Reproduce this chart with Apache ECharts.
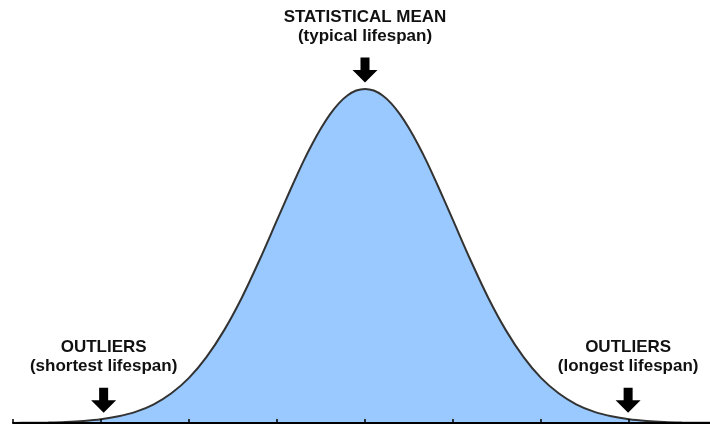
<!DOCTYPE html>
<html>
<head>
<meta charset="utf-8">
<script src="https://cdn.jsdelivr.net/npm/echarts@6/dist/echarts.min.js"></script>
<style>html,body{margin:0;padding:0;background:#fff}#c{width:710px;height:428px}</style>
</head>
<body>
<div id="c"></div>
<script>
// x in standard deviations from the mean, y as % of peak height
var xValues = [-4,-3.8,-3.6,-3.4,-3.2,-3,-2.8,-2.6,-2.4,-2.2,-2,-1.8,-1.6,-1.4,-1.2,-1,-0.9,-0.8,-0.7,-0.6,-0.5,-0.4,-0.3,-0.2,-0.1,0,
               0.1,0.2,0.3,0.4,0.5,0.6,0.7,0.8,0.9,1,1.2,1.4,1.6,1.8,2,2.2,2.4,2.6,2.8,3,3.2,3.4,3.6,3.8,4];
var yValues = [0.03,0.07,0.15,0.31,0.6,1.1,2.0,3.4,5.6,8.9,13.5,19.8,27.8,37.5,48.7,60.7,66.7,72.6,78.3,83.5,88.2,92.3,95.6,98.0,99.5,100,
               99.5,98.0,95.6,92.3,88.2,83.5,78.3,72.6,66.7,60.7,48.7,37.5,27.8,19.8,13.5,8.9,5.6,3.4,2.0,1.1,0.6,0.31,0.15,0.07,0.03];
var annotationX = [-2.97, 0, 2.99];
var annotationY = [1.1, 100, 1.1];
var annotationText = [
  'OUTLIERS\n(shortest lifespan)',
  'STATISTICAL MEAN\n(typical lifespan)',
  'OUTLIERS\n(longest lifespan)'
];

var curve = xValues.map(function (x, i) { return [x, yValues[i]]; });
var marks = annotationX.map(function (x, i) {
  return { value: [x, annotationY[i]], label: { formatter: annotationText[i] } };
});

var chart = echarts.init(document.getElementById('c'));
chart.setOption({
  animation: false,
  grid: { left: 13, width: 704, top: 0, bottom: 5, outerBoundsMode: 'none', containLabel: false },
  xAxis: {
    type: 'value', min: -4, max: 4, interval: 1, z: 10,
    axisLine: { show: true, onZero: false, lineStyle: { color: '#000', width: 2 } },
    axisTick: { show: true, inside: true, length: 4, lineStyle: { color: '#000', width: 1.5 } },
    axisLabel: { show: false },
    splitLine: { show: false }
  },
  yAxis: { type: 'value', min: 0, max: 126.6, show: false, splitLine: { show: false } },
  series: [
    {
      type: 'line', data: curve, smooth: 0.3, symbol: 'none', z: 2,
      lineStyle: { color: '#333', width: 2 },
      areaStyle: { color: '#99c9ff', opacity: 1 }
    },
    {
      type: 'scatter', data: marks, z: 5, clip: false,
      symbol: 'path://M3.2,0 L6.8,0 L6.8,5 L10,5 L5,10 L0,5 L3.2,5 Z',
      symbolSize: [25, 25], symbolOffset: [0, -19],
      itemStyle: { color: '#000', opacity: 1 },
      label: {
        show: true, position: 'top', distance: 12, align: 'center',
        fontFamily: 'Liberation Sans', fontWeight: 'bold', fontSize: 17,
        lineHeight: 19, color: '#111'
      },
      emphasis: { disabled: true }
    }
  ]
});
</script>
</body>
</html>
